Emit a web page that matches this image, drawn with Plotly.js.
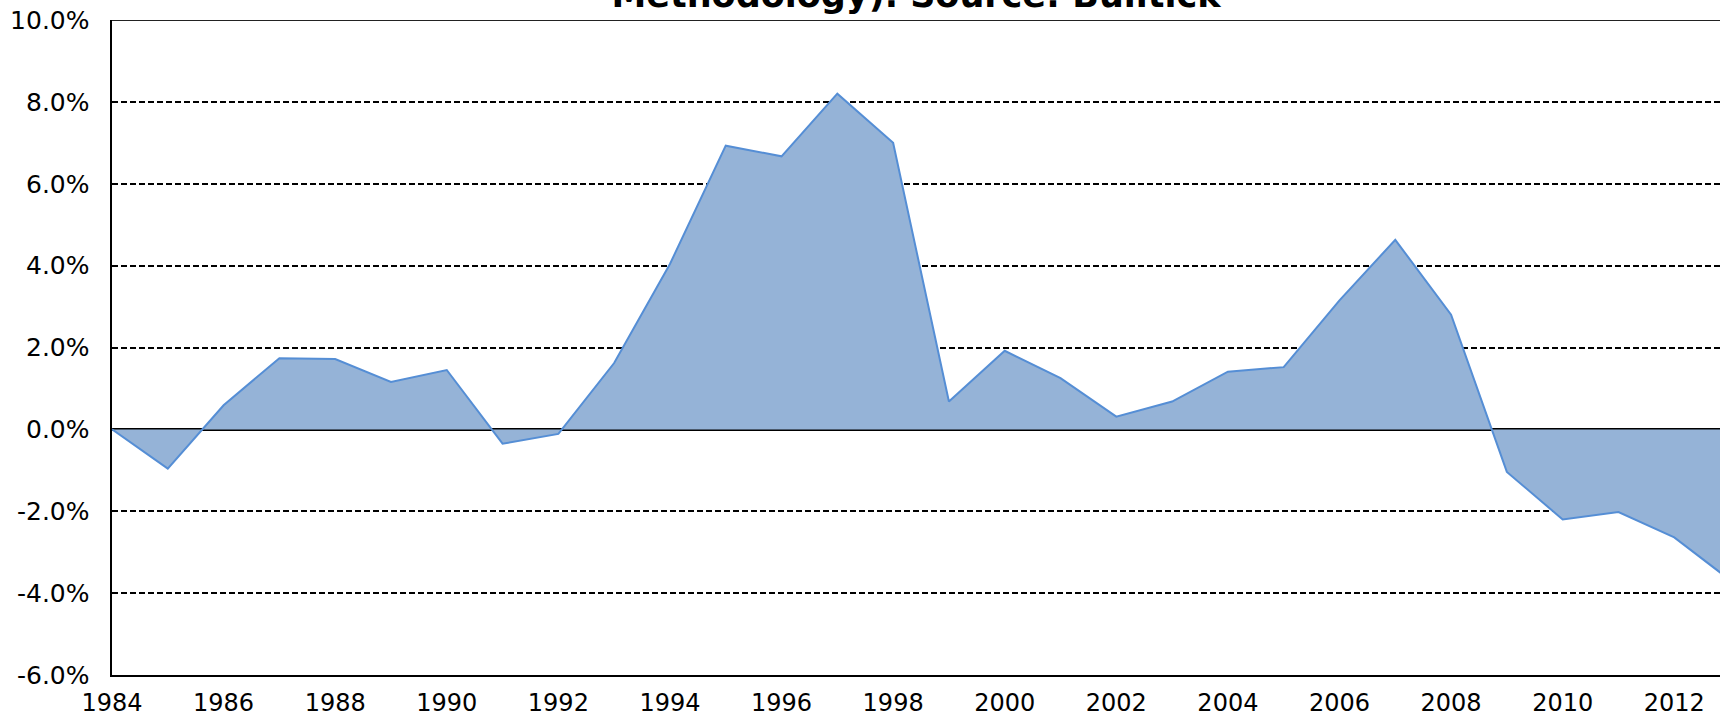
<!DOCTYPE html>
<html>
<head>
<meta charset="utf-8">
<script src="https://cdn.plot.ly/plotly-3.0.1.min.js"></script>
<style>html,body{margin:0;padding:0;background:#fff;}#chart{width:1720px;height:720px;}</style>
</head>
<body>
<div id="chart"></div>
<script>
const years = [1984,1985,1986,1987,1988,1989,1990,1991,1992,1993,1994,1995,1996,1997,1998,1999,2000,2001,2002,2003,2004,2005,2006,2007,2008,2009,2010,2011,2012,2013];
const outputGap = [0.00,-0.96,0.59,1.74,1.72,1.16,1.45,-0.35,-0.11,1.62,4.04,6.93,6.67,8.20,7.00,0.68,1.92,1.25,0.31,0.68,1.41,1.52,3.15,4.63,2.80,-1.04,-2.20,-2.02,-2.64,-3.68];
const titleText = 'Methodology). Source: Bulltick';
const yTicks = [-6,-4,-2,0,2,4,6,8,10];
const xTicks = [1984,1986,1988,1990,1992,1994,1996,1998,2000,2002,2004,2006,2008,2010,2012];

const trace = {
  x: years, y: outputGap, type: 'scatter', mode: 'lines',
  fill: 'tozeroy', fillcolor: 'rgb(149,179,215)',
  line: {color: 'rgb(85,142,213)', width: 2},
  hoverinfo: 'skip'
};

const layout = {
  width: 1720, height: 720,
  margin: {l: 112, r: 0, t: 20, b: 45, pad: 0},
  paper_bgcolor: '#fff', plot_bgcolor: '#fff',
  showlegend: false,
  font: {family: 'DejaVu Sans, Verdana, sans-serif', color: '#000'},
  title: {
    text: '<b>' + titleText + '</b>',
    font: {family: 'DejaVu Sans, Verdana, sans-serif', size: 35, color: '#000'},
    xref: 'paper', x: 0.5, xanchor: 'center',
    yref: 'container', y: 1 - 7/720, yanchor: 'bottom'
  },
  xaxis: {
    range: [1984, 2012.82],
    tickvals: xTicks, ticktext: xTicks.map(String),
    showgrid: false, zeroline: false,
    showline: true, linecolor: '#000', linewidth: 2,
    ticks: '', ticklabelstandoff: 5,
    tickfont: {size: 24, color: '#000'}
  },
  yaxis: {
    range: [-6, 10],
    tickvals: yTicks, ticktext: yTicks.map(v => v.toFixed(1) + '%'),
    showgrid: true, gridcolor: '#000', gridwidth: 2, griddash: '6px,3px',
    zeroline: true, zerolinecolor: '#000', zerolinewidth: 2.5,
    showline: true, linecolor: '#000', linewidth: 2.5,
    ticks: '', ticklabelstandoff: 15,
    tickfont: {size: 25, color: '#000'}
  },
  shapes: [{
    type: 'line', xref: 'paper', yref: 'y', x0: 0, x1: 1, y0: 10, y1: 10,
    line: {color: '#222', width: 2}
  }]
};

Plotly.newPlot('chart', [trace], layout, {displayModeBar: false, staticPlot: true});
</script>
</body>
</html>
